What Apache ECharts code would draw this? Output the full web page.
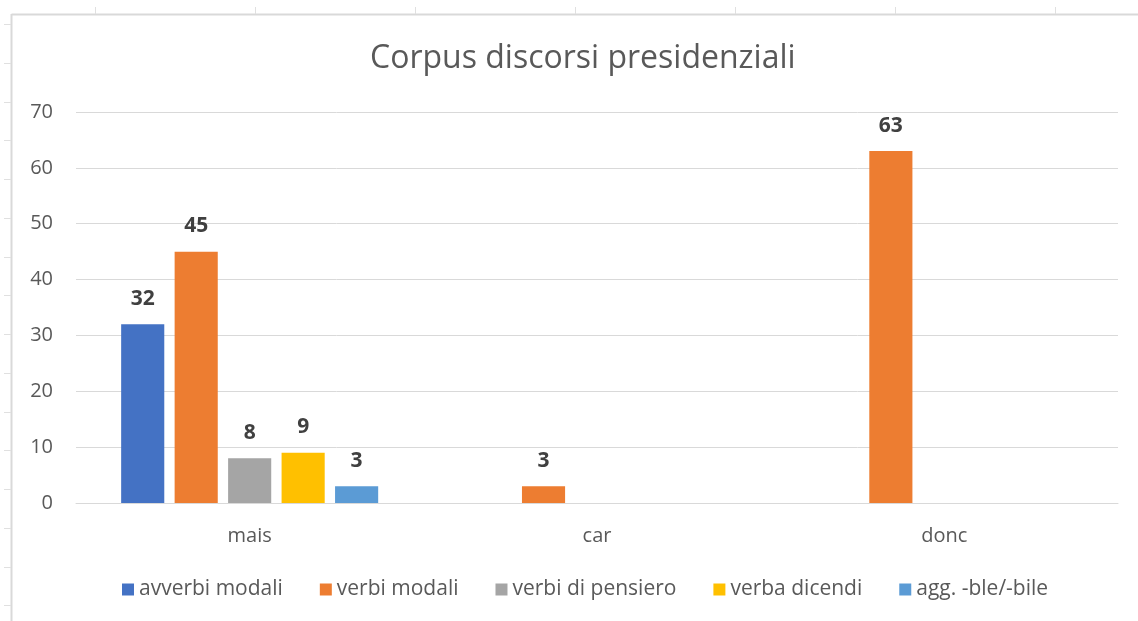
<!DOCTYPE html>
<html>
<head>
<meta charset="utf-8">
<script src="https://cdn.jsdelivr.net/npm/echarts@6/dist/echarts.min.js"></script>
<style>html,body{margin:0;padding:0;background:#fff;}#c{width:1138px;height:621px;}</style>
</head>
<body>
<div id="c"></div>
<script>
var categories = ['mais', 'car', 'donc'];
var seriesNames = ['avverbi modali', 'verbi modali', 'verbi di pensiero', 'verba dicendi', 'agg. -ble/-bile'];
var avverbiModali = [32, null, null];
var verbiModali = [45, 3, 63];
var verbiDiPensiero = [8, null, null];
var verbaDicendi = [9, null, null];
var aggBile = [3, null, null];
var yTicks = [0, 10, 20, 30, 40, 50, 60, 70];

var colors = ['#4472C4', '#ED7D31', '#A5A5A5', '#FFC000', '#5B9BD5'];
var FONT = 'Open Sans';
var values = [avverbiModali, verbiModali, verbiDiPensiero, verbaDicendi, aggBile];

var chart = echarts.init(document.getElementById('c'), null, {renderer: 'canvas'});

// spreadsheet-like frame decorations
var deco = [];
deco.push({type: 'line', shape: {x1: 11.5, y1: 14.5, x2: 1138, y2: 14.5}, style: {stroke: '#d9d9d9', lineWidth: 2}, silent: true});
deco.push({type: 'line', shape: {x1: 11.5, y1: 14, x2: 11.5, y2: 621}, style: {stroke: '#d9d9d9', lineWidth: 2}, silent: true});
for (var x = 95; x < 1138; x += 160) {
  deco.push({type: 'line', shape: {x1: x + 0.5, y1: 7, x2: x + 0.5, y2: 14}, style: {stroke: '#e0e0e0', lineWidth: 1}, silent: true});
}
for (var y = 24; y < 621; y += 38.75) {
  deco.push({type: 'line', shape: {x1: 4, y1: Math.round(y) + 0.5, x2: 11, y2: Math.round(y) + 0.5}, style: {stroke: '#e0e0e0', lineWidth: 1}, silent: true});
}

var series = seriesNames.map(function (name, i) {
  return {
    name: name,
    type: 'bar',
    data: values[i],
    barGap: '24%',
    barCategoryGap: '26%',
    itemStyle: {color: colors[i]},
    label: {
      show: true,
      position: 'top',
      distance: 15,
      fontFamily: FONT,
      fontSize: 21,
      fontWeight: 'bold',
      color: '#404040'
    }
  };
});

chart.setOption({
  backgroundColor: '#ffffff',
  animation: false,
  graphic: deco,
  title: {
    text: 'Corpus discorsi presidenziali',
    left: 365,
    top: 38,
    textStyle: {fontFamily: FONT, fontSize: 32, fontWeight: 'normal', color: '#595959'}
  },
  legend: {
    data: seriesNames,
    bottom: 16,
    left: 117,
    icon: 'rect',
    itemWidth: 12,
    itemHeight: 12,
    itemGap: 37,
    textStyle: {fontFamily: FONT, fontSize: 21, color: '#595959'}
  },
  grid: {left: 76, right: 20, top: 112, bottom: 118, containLabel: false},
  xAxis: {
    type: 'category',
    data: categories,
    axisLine: {show: true, lineStyle: {color: '#d9d9d9', width: 1}},
    axisTick: {show: false},
    axisLabel: {fontFamily: FONT, fontSize: 20, color: '#595959', margin: 23}
  },
  yAxis: {
    type: 'value',
    min: yTicks[0],
    max: yTicks[yTicks.length - 1],
    interval: 10,
    axisLine: {show: false},
    axisTick: {show: false},
    axisLabel: {fontFamily: FONT, fontSize: 20, color: '#595959', margin: 23},
    splitLine: {lineStyle: {color: '#d9d9d9', width: 1}}
  },
  series: series
});
</script>
</body>
</html>
